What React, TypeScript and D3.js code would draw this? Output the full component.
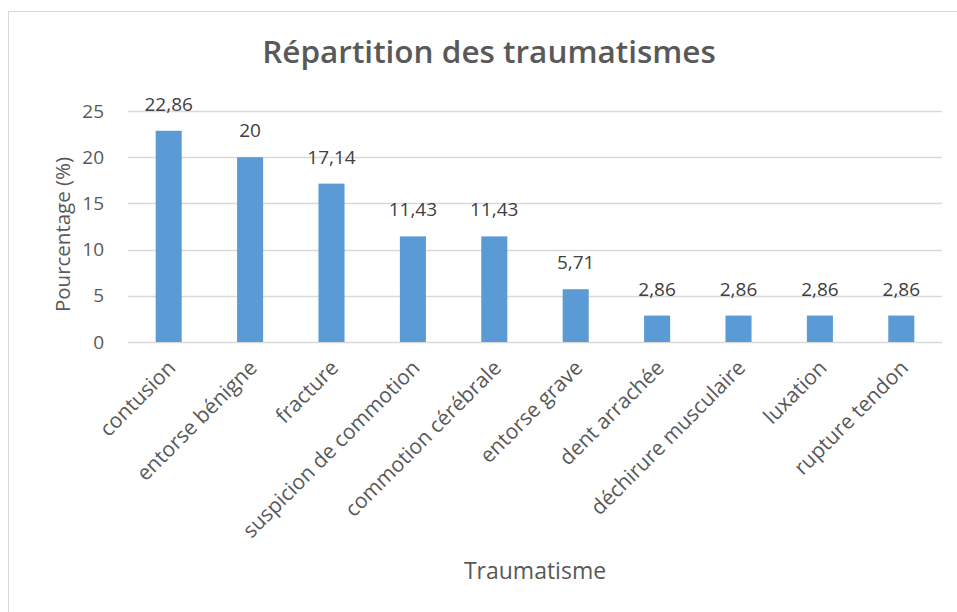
import { useRef, useEffect } from "react";
import * as d3 from "d3";

const categories = [
  "contusion",
  "entorse bénigne",
  "fracture",
  "suspicion de commotion",
  "commotion cérébrale",
  "entorse grave",
  "dent arrachée",
  "déchirure musculaire",
  "luxation",
  "rupture tendon",
];
const values = [22.86, 20, 17.14, 11.43, 11.43, 5.71, 2.86, 2.86, 2.86, 2.86];
const yTicks = [0, 5, 10, 15, 20, 25];

const FONT = "'Open Sans', sans-serif";
const TEXT = "#595959";

export default function App() {
  const svgRef = useRef<SVGSVGElement>(null);

  useEffect(() => {
    document.body.style.margin = "0";
    const svg = d3.select(svgRef.current);
    svg.selectAll("*").remove();

    const width = 957;
    const height = 612;
    const margin = { top: 111, right: 15, bottom: 270, left: 128 };

    // chart frame
    svg
      .append("rect")
      .attr("x", 8.5)
      .attr("y", 11.5)
      .attr("width", 960)
      .attr("height", 620)
      .attr("fill", "#fff")
      .attr("stroke", "#d9d9d9");

    const x = d3
      .scaleBand()
      .domain(categories)
      .range([margin.left, width - margin.right])
      .paddingInner(0.68)
      .paddingOuter(0.34);

    const y = d3
      .scaleLinear()
      .domain([0, 25])
      .range([height - margin.bottom, margin.top]);

    // gridlines
    svg
      .append("g")
      .selectAll("line")
      .data(yTicks)
      .enter()
      .append("line")
      .attr("x1", margin.left)
      .attr("x2", width - margin.right)
      .attr("y1", (d) => Math.round(y(d)) + 0.5)
      .attr("y2", (d) => Math.round(y(d)) + 0.5)
      .attr("stroke", "#d9d9d9")
      .attr("stroke-width", 1.3);

    // y tick labels
    svg
      .append("g")
      .selectAll("text")
      .data(yTicks)
      .enter()
      .append("text")
      .attr("x", 104)
      .attr("y", (d) => y(d))
      .attr("dy", "0.35em")
      .attr("text-anchor", "end")
      .attr("fill", TEXT)
      .style("font-family", FONT)
      .style("font-size", "19px")
      .text((d) => d);

    // bars
    svg
      .append("g")
      .selectAll("rect")
      .data(values)
      .enter()
      .append("rect")
      .attr("x", (d, i) => x(categories[i])!)
      .attr("y", (d) => y(d))
      .attr("width", x.bandwidth())
      .attr("height", (d) => y(0) - y(d))
      .attr("fill", "#5b9bd5");

    // data labels
    svg
      .append("g")
      .selectAll("text")
      .data(values)
      .enter()
      .append("text")
      .attr("x", (d, i) => x(categories[i])! + x.bandwidth() / 2)
      .attr("y", (d) => y(d) - 20)
      .attr("text-anchor", "middle")
      .attr("fill", "#404040")
      .style("font-family", FONT)
      .style("font-size", "19px")
      .text((d) => String(d).replace(".", ","));

    // category labels, rotated
    svg
      .append("g")
      .selectAll("text")
      .data(categories)
      .enter()
      .append("text")
      .attr(
        "transform",
        (d) => `translate(${x(d)! + x.bandwidth() / 2 + 3},${y(0) + 22}) rotate(-45)`
      )
      .attr("text-anchor", "end")
      .attr("dy", "0.35em")
      .attr("fill", TEXT)
      .style("font-family", FONT)
      .style("font-size", "21px")
      .text((d) => d);

    // title
    svg
      .append("text")
      .attr("x", 489)
      .attr("y", 63)
      .attr("text-anchor", "middle")
      .attr("fill", TEXT)
      .attr("font-weight", 600)
      .style("font-family", FONT)
      .style("font-size", "31.5px")
      .text("Répartition des traumatismes");

    // axis titles
    svg
      .append("text")
      .attr("x", 535)
      .attr("y", 579)
      .attr("text-anchor", "middle")
      .attr("fill", TEXT)
      .style("font-family", FONT)
      .style("font-size", "23px")
      .text("Traumatisme");

    svg
      .append("text")
      .attr("transform", `translate(70,${(y(0) + y(25)) / 2 + 8}) rotate(-90)`)
      .attr("text-anchor", "middle")
      .attr("fill", TEXT)
      .style("font-family", FONT)
      .style("font-size", "20.5px")
      .text("Pourcentage (%)");
  }, []);

  return <svg ref={svgRef} width={957} height={612} style={{ display: "block" }} />;
}
